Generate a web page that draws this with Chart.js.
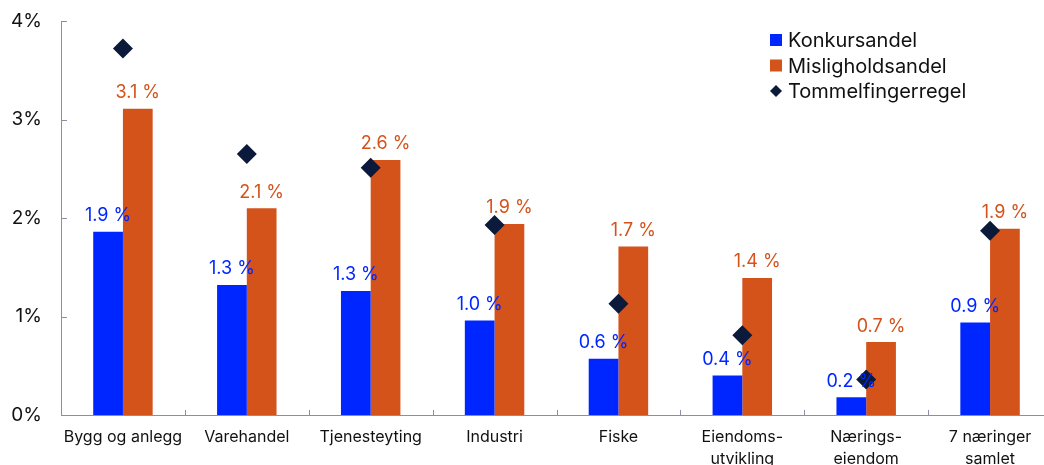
<!DOCTYPE html>
<html>
<head>
<meta charset="utf-8">
<script src="https://cdn.jsdelivr.net/npm/chart.js@4"></script>
<style>
  html, body { margin: 0; padding: 0; background: #fff; overflow: hidden; }
  #wrap { position: absolute; left: 0; top: 0; width: 1062px; height: 480px; }
</style>
</head>
<body>
<div id="wrap"><canvas id="myChart"></canvas></div>
<script>
const categories = [
    "Bygg og anlegg", "Varehandel", "Tjenesteyting", "Industri", "Fiske",
    ["Eiendoms-", "utvikling"], ["Nærings-", "eiendom"], ["7 næringer", "samlet"]
];
const konkursandel = [1.86, 1.32, 1.26, 0.96, 0.57, 0.40, 0.18, 0.94];
const misligholdsandel = [3.11, 2.10, 2.59, 1.94, 1.71, 1.39, 0.74, 1.89];
const tommelfingerregel = [3.72, 2.65, 2.51, 1.93, 1.13, 0.81, 0.36, 1.87];
const yTicks = [0, 1, 2, 3, 4];

const BLUE = "#0026ff";
const ORANGE = "#d4531b";
const NAVY = "#0b1a3a";
const AXIS = "#8a90a3";
const FONT = "Inter";

// value labels above the bars
const barLabels = {
    id: "barLabels",
    afterDatasetsDraw(chart) {
        const ctx = chart.ctx;
        ctx.save();
        ctx.font = "18px " + FONT;
        ctx.textAlign = "center";
        ctx.textBaseline = "middle";
        chart.data.datasets.forEach((ds, i) => {
            if (ds.type === "line") return;
            const meta = chart.getDatasetMeta(i);
            ctx.fillStyle = ds.backgroundColor;
            meta.data.forEach((bar, j) => {
                ctx.fillText(ds.data[j].toFixed(1) + " %", bar.x, bar.y - 16);
            });
        });
        ctx.restore();
    }
};

// short inward tick marks on both axes
const innerTicks = {
    id: "innerTicks",
    afterDraw(chart) {
        const ctx = chart.ctx;
        const x = chart.scales.x, y = chart.scales.y;
        const area = chart.chartArea;
        ctx.save();
        ctx.strokeStyle = AXIS;
        ctx.lineWidth = 1;
        ctx.beginPath();
        y.ticks.forEach((t, i) => {
            if (i === 0) return;
            const py = Math.round(y.getPixelForTick(i)) + 0.5;
            ctx.moveTo(area.left, py);
            ctx.lineTo(area.left + 6, py);
        });
        for (let i = 1; i < categories.length; i++) {
            const px = Math.round((x.getPixelForTick(i - 1) + x.getPixelForTick(i)) / 2) + 0.5;
            ctx.moveTo(px, area.bottom);
            ctx.lineTo(px, area.bottom - 5);
        }
        ctx.stroke();
        ctx.restore();
    }
};

// legend in the upper right
const sideLegend = {
    id: "sideLegend",
    afterDraw(chart) {
        const ctx = chart.ctx;
        const x0 = 770, y0 = 40, step = 25.5;
        ctx.save();
        ctx.font = "20px " + FONT;
        ctx.textBaseline = "middle";
        ctx.textAlign = "left";
        chart.data.datasets.forEach((ds, i) => {
            const cy = y0 + i * step;
            if (ds.type === "line") {
                ctx.fillStyle = ds.pointBackgroundColor;
                ctx.beginPath();
                ctx.moveTo(x0 + 6, cy - 6);
                ctx.lineTo(x0 + 12, cy);
                ctx.lineTo(x0 + 6, cy + 6);
                ctx.lineTo(x0, cy);
                ctx.closePath();
                ctx.fill();
            } else {
                ctx.fillStyle = ds.backgroundColor;
                ctx.fillRect(x0, cy - 6, 12, 12);
            }
            ctx.fillStyle = "#111";
            ctx.fillText(ds.label, x0 + 18, cy + 1);
        });
        ctx.restore();
    }
};

const graph = document.getElementById("myChart").getContext("2d");
const myChart = new Chart(graph, {
    type: "bar",
    data: {
        labels: categories,
        datasets: [
            {
                label: "Konkursandel",
                data: konkursandel,
                backgroundColor: BLUE,
                order: 2
            },
            {
                label: "Misligholdsandel",
                data: misligholdsandel,
                backgroundColor: ORANGE,
                order: 2
            },
            {
                type: "line",
                label: "Tommelfingerregel",
                data: tommelfingerregel,
                showLine: false,
                pointStyle: "rectRot",
                pointRadius: 10,
                pointHoverRadius: 10,
                pointBackgroundColor: NAVY,
                pointBorderColor: NAVY,
                pointBorderWidth: 0,
                order: 1
            }
        ]
    },
    plugins: [barLabels, innerTicks, sideLegend],
    options: {
        responsive: true,
        maintainAspectRatio: false,
        animation: false,
        devicePixelRatio: 1,
        layout: { padding: { top: 21, right: 6, bottom: 0, left: 0 } },
        datasets: {
            bar: { barPercentage: 1, categoryPercentage: 0.48 }
        },
        plugins: {
            legend: { display: false },
            tooltip: { enabled: false }
        },
        scales: {
            x: {
                grid: { display: false, drawTicks: false },
                border: { display: true, color: AXIS, width: 1 },
                ticks: {
                    color: "#111",
                    font: { family: FONT, size: 16, lineHeight: 1.4 },
                    padding: 11,
                    maxRotation: 0,
                    autoSkip: false
                },
                afterFit(scale) { scale.height = 65; }
            },
            y: {
                min: 0,
                max: 4,
                afterBuildTicks(scale) {
                    scale.ticks = yTicks.map(v => ({ value: v }));
                },
                grid: { display: false, drawTicks: false },
                border: { display: true, color: AXIS, width: 1 },
                ticks: {
                    color: "#111",
                    font: { family: FONT, size: 19 },
                    padding: 19,
                    callback: v => v + "%"
                },
                afterFit(scale) {
                    scale.width = 61;
                    scale.paddingTop = 0;
                    scale.paddingBottom = 0;
                }
            }
        }
    }
});
</script>
</body>
</html>
